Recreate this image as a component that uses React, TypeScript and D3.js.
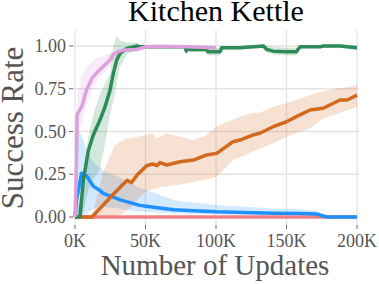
import React from "react";
import * as d3 from "d3";

const title = "Kitchen Kettle";
const xTicks = [0, 50, 100, 150, 200];
const yTicks = [0, 0.25, 0.5, 0.75, 1];

// pink
const pinkSteps = [0, 1, 1.5, 3, 5, 8, 12, 15, 20, 25, 27, 31, 35, 44, 50, 60, 70, 80, 90, 100];
const pinkMean = [0, 0.3, 0.6, 0.62, 0.65, 0.74, 0.81, 0.84, 0.88, 0.92, 0.95, 0.967, 0.977, 0.98, 0.995, 0.998, 0.997, 0.995, 0.992, 0.99];
const pinkLow = [0, 0.1, 0.45, 0.5, 0.55, 0.65, 0.74, 0.79, 0.84, 0.88, 0.92, 0.95, 0.965, 0.97, 0.985, 0.99, 0.99, 0.985, 0.98, 0.98];
const pinkHigh = [0, 0.55, 0.7, 0.76, 0.83, 0.88, 0.91, 0.93, 0.94, 0.96, 0.97, 0.98, 0.99, 0.99, 1.0, 1.0, 1.0, 1.0, 1.0, 1.0];

// green
const greenSteps = [0, 3.5, 6, 9.5, 13, 17.7, 21.3, 24.8, 27.2, 29.6, 32, 36.7, 44, 46, 60, 78, 79, 80, 81.6, 93.4, 94, 103, 104, 117, 133.6, 136, 140.6, 150, 157, 159.6, 173.8, 176, 188, 200];
const greenMean = [0, 0, 0.22, 0.39, 0.48, 0.567, 0.645, 0.74, 0.84, 0.918, 0.957, 0.986, 1.0, 0.995, 0.995, 0.995, 0.97, 0.99, 0.98, 0.98, 0.967, 0.967, 0.99, 0.99, 1.0, 0.98, 0.97, 0.967, 0.967, 0.995, 0.995, 1.0, 1.0, 0.99];
const greenLow = [0, 0, 0.03, 0.16, 0.22, 0.28, 0.43, 0.6, 0.68, 0.78, 0.88, 0.95, 0.98, 0.985, 0.985, 0.985, 0.95, 0.98, 0.965, 0.965, 0.945, 0.945, 0.98, 0.98, 0.99, 0.96, 0.95, 0.945, 0.945, 0.985, 0.985, 0.99, 0.99, 0.975];
const greenHigh = [0, 0.1, 0.26, 0.47, 0.6, 0.72, 0.78, 0.84, 1.0, 1.06, 1.03, 1.02, 1.02, 1.005, 1.005, 1.005, 0.99, 1.0, 0.995, 0.995, 0.99, 0.99, 1.0, 1.0, 1.01, 1.0, 0.995, 0.99, 0.99, 1.005, 1.005, 1.01, 1.01, 1.0];

// orange
const orangeSteps = [0, 12, 20, 28, 34, 37, 40, 44, 50.8, 55, 58, 60.3, 65, 74.5, 84, 93.4, 100.5, 112, 117, 126.5, 131, 140.6, 150, 157, 166.7, 176, 188, 193, 200];
const orangeMean = [0, 0, 0.07, 0.14, 0.19, 0.215, 0.2, 0.245, 0.3, 0.31, 0.3, 0.318, 0.304, 0.323, 0.333, 0.363, 0.372, 0.44, 0.45, 0.48, 0.49, 0.528, 0.557, 0.587, 0.626, 0.636, 0.684, 0.684, 0.713];
const orangeLow = [0, 0, 0, 0, 0.02, 0.04, 0.06, 0.1, 0.15, 0.16, 0.17, 0.175, 0.18, 0.19, 0.205, 0.22, 0.236, 0.333, 0.35, 0.385, 0.4, 0.43, 0.47, 0.49, 0.52, 0.575, 0.61, 0.625, 0.645];
const orangeHigh = [0, 0, 0.26, 0.42, 0.45, 0.46, 0.46, 0.47, 0.48, 0.49, 0.46, 0.47, 0.49, 0.47, 0.45, 0.48, 0.53, 0.57, 0.587, 0.61, 0.61, 0.645, 0.665, 0.684, 0.713, 0.735, 0.755, 0.76, 0.77];

// blue
const blueSteps = [0, 1, 4.7, 8.3, 13, 17.7, 20, 29.6, 32, 46, 53, 70, 77, 100, 140, 160, 171, 178.5, 200];
const blueMean = [0, 0.1, 0.255, 0.24, 0.18, 0.155, 0.138, 0.109, 0.1, 0.068, 0.06, 0.042, 0.04, 0.03, 0.022, 0.02, 0.018, 0, 0];
const blueLow = [0, 0, 0, 0.02, 0.05, 0.06, 0.06, 0.05, 0.045, 0.032, 0.028, 0.02, 0.02, 0.015, 0.01, 0.01, 0.01, 0, 0];
const blueHigh = [0, 0.53, 0.48, 0.39, 0.32, 0.29, 0.27, 0.24, 0.23, 0.17, 0.15, 0.1, 0.09, 0.07, 0.05, 0.045, 0.04, 0, 0];

// red
const redSteps = [0, 200];
const redMean = [0, 0];

const series = [
  { color: "#f08080", steps: redSteps, mean: redMean, low: redMean, high: redMean },
  { color: "#1e90ff", steps: blueSteps, mean: blueMean, low: blueLow, high: blueHigh },
  { color: "#d2691e", steps: orangeSteps, mean: orangeMean, low: orangeLow, high: orangeHigh },
  { color: "#2e8b57", steps: greenSteps, mean: greenMean, low: greenLow, high: greenHigh },
  { color: "#dda0dd", steps: pinkSteps, mean: pinkMean, low: pinkLow, high: pinkHigh },
];

const font = "Liberation Serif, Times New Roman, serif";

export default function App() {
  const width = 379;
  const height = 284;
  const x = d3.scaleLinear().domain([0, 200]).range([75, 357]);
  const y = d3.scaleLinear().domain([0, 1]).range([217, 46]);

  const line = d3
    .line<[number, number]>()
    .x((d) => x(d[0]))
    .y((d) => y(d[1]));
  const area = d3
    .area<[number, number, number]>()
    .x((d) => x(d[0]))
    .y0((d) => y(d[1]))
    .y1((d) => y(d[2]));

  return (
    <svg width={width} height={height} style={{ position: "absolute", left: 0, top: 0 }}>
      <rect width={width} height={height} fill="#fff" />
      {/* grid */}
      {xTicks.map((t) => (
        <line key={"gx" + t} x1={x(t)} x2={x(t)} y1={30} y2={225} stroke="#e3e3e3" strokeWidth={1.3} />
      ))}
      {yTicks.map((t) => (
        <line key={"gy" + t} x1={73} x2={359} y1={y(t)} y2={y(t)} stroke="#e3e3e3" strokeWidth={1.3} />
      ))}
      {/* ticks */}
      {xTicks.map((t) => (
        <g key={"tx" + t}>
          <line x1={x(t)} x2={x(t)} y1={225} y2={229} stroke="#666" strokeWidth={1} />
          <text x={x(t)} y={247} textAnchor="middle" fontFamily={font} fontSize={18} fill="#555">
            {t + "K"}
          </text>
        </g>
      ))}
      {yTicks.map((t) => (
        <g key={"ty" + t}>
          <line x1={69} x2={73} y1={y(t)} y2={y(t)} stroke="#666" strokeWidth={1} />
          <text x={66} y={y(t) + 6} textAnchor="end" fontFamily={font} fontSize={18} fill="#555">
            {t.toFixed(2)}
          </text>
        </g>
      ))}
      {/* bands */}
      {series.map((s, i) => (
        <path
          key={"b" + i}
          d={area(s.steps.map((k, j) => [k, s.low[j], s.high[j]] as [number, number, number])) || ""}
          fill={s.color}
          fillOpacity={0.2}
          stroke="none"
        />
      ))}
      {/* lines */}
      {series.map((s, i) => (
        <path
          key={"l" + i}
          d={line(s.steps.map((k, j) => [k, s.mean[j]] as [number, number])) || ""}
          fill="none"
          stroke={s.color}
          strokeWidth={3.5}
          strokeLinejoin="round"
        />
      ))}
      <text x={216} y={21} textAnchor="middle" fontFamily={font} fontSize={30} fill="#000">
        {title}
      </text>
      <text x={215} y={275} textAnchor="middle" fontFamily={font} fontSize={29} fill="#555">
        Number of Updates
      </text>
      <text
        transform={`translate(23, 128) rotate(-90)`}
        textAnchor="middle"
        fontFamily={font}
        fontSize={31}
        fill="#555"
      >
        Success Rate
      </text>
    </svg>
  );
}
